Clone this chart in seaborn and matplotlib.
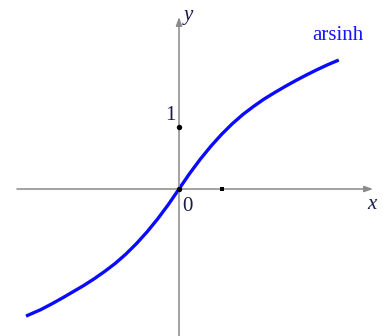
import matplotlib
matplotlib.use("Agg")
import matplotlib.pyplot as plt
import seaborn as sns
import pandas as pd

# Sample points of the inverse hyperbolic sine curve
x_vals = [-3.6, -3.25, -3.0, -2.75, -2.5, -2.25, -2.0, -1.75, -1.5, -1.25, -1.0,
          -0.75, -0.5, -0.25, 0.0, 0.25, 0.5, 0.75, 1.0, 1.25, 1.5, 1.75, 2.0,
          2.25, 2.5, 2.75, 3.0, 3.25, 3.5, 3.76]
y_vals = [-2.05, -1.945, -1.855, -1.76, -1.66, -1.56, -1.45, -1.33, -1.20, -1.05, -0.88,
          -0.69, -0.48, -0.25, 0.0, 0.25, 0.48, 0.69, 0.88, 1.05, 1.20, 1.33, 1.45,
          1.555, 1.655, 1.75, 1.84, 1.925, 2.005, 2.08]
curve_label = "arsinh"
marked_points_x = [0, 0]
marked_points_y = [0, 1]
x_tick_pos = [1]

sns.set_style("white")
plt.rcParams["font.family"] = ["Liberation Serif", "DejaVu Serif"]

W, H, DPI = 383, 336, 100
fig = plt.figure(figsize=(W / DPI, H / DPI), dpi=DPI)
ax = fig.add_axes([0, 0, 1, 1])

# pixel geometry of the coordinate system
ox, oy = 179, 189
sx, sy = 42.5, 62.0
ax.set_xlim(-ox / sx, (W - ox) / sx)
ax.set_ylim(-(H - oy) / sy, oy / sy)
ax.set_axis_off()


def px(x):
    return (x - ox) / sx


def py(y):
    return (oy - y) / sy


axis_col = "#8a8a8a"
arrow = dict(arrowstyle="-|>,head_length=0.5,head_width=0.18", color=axis_col, lw=1.1,
             shrinkA=0, shrinkB=0)
ax.annotate("", xy=(px(373), 0), xytext=(px(17), 0), arrowprops=arrow)
ax.annotate("", xy=(0, py(17)), xytext=(0, py(H)), arrowprops=arrow)

df = pd.DataFrame({"x": x_vals, "y": y_vals})
sns.lineplot(data=df, x="x", y="y", ax=ax, color="#0a0aff", lw=2.4, sort=True,
             solid_capstyle="butt", legend=False)

ax.scatter(marked_points_x, marked_points_y, s=15, color="black", zorder=5, lw=0)
ax.scatter(x_tick_pos, [0] * len(x_tick_pos), s=9, marker="s", color="black",
           zorder=5, lw=0)

txt_col = "#1a1a4a"
ax.text(px(188), py(20), "y", fontsize=15, style="italic", color=txt_col,
        ha="center", va="baseline")
ax.text(px(372), py(209), "x", fontsize=15, style="italic", color=txt_col,
        ha="center", va="baseline")
ax.text(px(170), py(120), "1", fontsize=15, color=txt_col, ha="center", va="baseline")
ax.text(px(187), py(211), "0", fontsize=15, color=txt_col, ha="center", va="baseline")
ax.text(px(338), py(40), curve_label, fontsize=15, color="#1515ff",
        ha="center", va="baseline")

fig.savefig("out.png", dpi=DPI)
